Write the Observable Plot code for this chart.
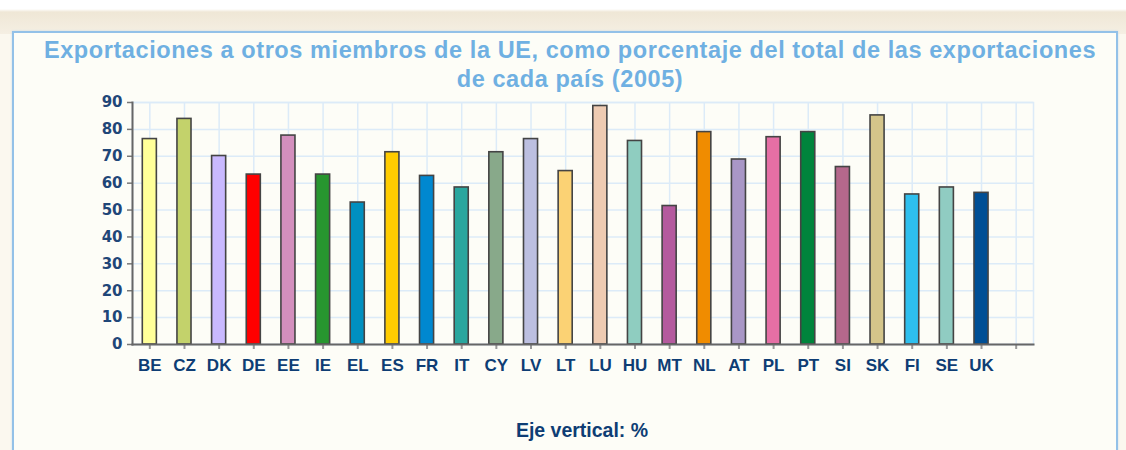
<!DOCTYPE html>
<html><head><meta charset="utf-8">
<script src="https://cdn.jsdelivr.net/npm/d3@7"></script>
<script src="https://cdn.jsdelivr.net/npm/@observablehq/plot@0.6"></script>
<style>
body{margin:0;width:1126px;height:450px;overflow:hidden;background:#fbf8ef;font-family:"Liberation Sans",Arial,sans-serif;position:relative}
#top{position:absolute;left:0;top:0;width:1126px;height:34px;background:linear-gradient(#ffffff 0,#ffffff 9px,#efe7d6 12px,#f5efe3 34px)}
#box{position:absolute;left:12px;top:31px;width:1102px;height:430px;border:2px solid #93c1e8;background:#fdfdf7;box-shadow:0 0 2px #c9dcec}
#title{position:absolute;left:0;top:36px;width:1140px;text-align:center;color:#6fb0e2;font:bold 23.5px "Liberation Sans",Arial,sans-serif;letter-spacing:0.58px;line-height:29px;white-space:nowrap}
#chart{position:absolute;left:0;top:90px}
#caption{position:absolute;left:0;width:1164px;top:419px;text-align:center;font:bold 19.5px "Liberation Sans",Arial,sans-serif;line-height:22px;color:#0e3d74}
</style>
</head><body>
<div id="top"></div>
<div id="box"></div>
<div id="title">Exportaciones a otros miembros de la UE, como porcentaje del total de las exportaciones<br>de cada país (2005)</div>
<div id="chart"></div>
<div id="caption">Eje vertical: %</div>
<script>
const countries = ["BE","CZ","DK","DE","EE","IE","EL","ES","FR","IT","CY","LV","LT","LU","HU","MT","NL","AT","PL","PT","SI","SK","FI","SE","UK"];
const values = [76.4,83.9,70.1,63.2,77.7,63.2,52.8,71.5,62.7,58.4,71.5,76.4,64.5,88.7,75.7,51.5,79.0,68.8,77.1,79.0,66.0,85.2,55.8,58.4,56.4];
const colors = ["#ffff99","#c3d26b","#c9b9ff","#ff0000","#d38fbd","#27962f","#0090c0","#ffcc00","#0088d0","#2aa69e","#88a98a","#bcbfe0","#fbd274","#eecbb2","#8fcdc0","#b45a9e","#f08c00","#a997c6","#e56fa5","#00843c","#b5688c","#d4c58a","#2ebfee","#90ccc2","#004f95"];
const yTicks = [0,10,20,30,40,50,60,70,80,90];
const data = countries.map((c, i) => ({country: c, value: values[i], color: colors[i]}));
const grid = "#dcebf8";
const plot = Plot.plot({
  width: 1126, height: 300,
  marginLeft: 132, marginRight: 93, marginTop: 12, marginBottom: 46,
  style: {background: "transparent", fontFamily: "'Liberation Sans', Arial, sans-serif"},
  x: {domain: [...countries, " "], padding: 0, round: false, label: null},
  y: {domain: [0, 90], label: null},
  marks: [
    Plot.gridY(yTicks, {stroke: grid, strokeOpacity: 1, strokeWidth: 1.5}),
    Plot.gridX({stroke: grid, strokeOpacity: 1, strokeWidth: 1.5}),
    Plot.frame({stroke: grid, strokeWidth: 1.5}),
    Plot.barY(data, {x: "country", y: "value", fill: "color", stroke: "#444", strokeWidth: 1.6, insetLeft: 10.3, insetRight: 10.3}),
    Plot.axisY(yTicks, {tickSize: 5, tickPadding: 5, fill: "#1f4678", fontSize: 15, fontFamily: "'DejaVu Sans', sans-serif", fontWeight: "bold", stroke: "#777", strokeWidth: 1.5}),
    Plot.axisX({tickSize: 5, tickPadding: 9, fontSize: 17, fontWeight: "bold", fill: "#0e3d74", stroke: "#999", strokeWidth: 2}),
    Plot.frame({anchor: "left", stroke: "#666", strokeWidth: 2}),
    Plot.frame({anchor: "bottom", stroke: "#666", strokeWidth: 2})
  ]
});
document.getElementById("chart").appendChild(plot);
</script>
</body></html>
